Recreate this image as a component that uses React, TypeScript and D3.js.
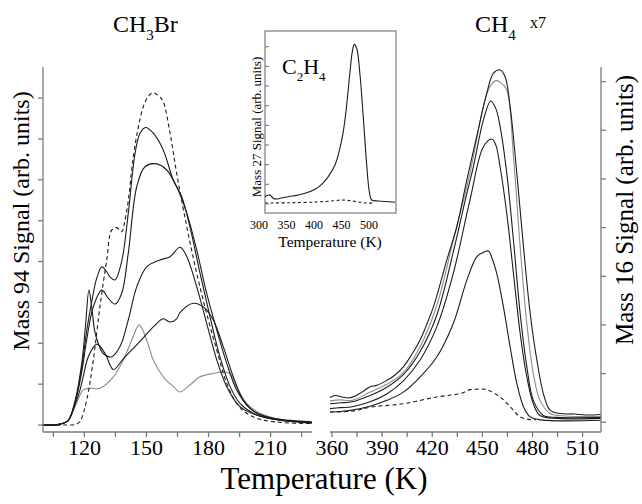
import React from "react";
import * as d3 from "d3";

type Pt = [number, number];

// ---- CH3Br (mass 94), temperature in K, signal in arb. units ----
const ch3brDashed: Pt[] = [[99.5,0],[110,0],[116,0.02],[118,0.1],[121.1,0.61],[124.3,1.59],[127.5,2.89],[130.8,4.04],[133.2,4.77],[135.6,4.83],[138,4.73],[139.6,5.0],[141.5,5.6],[143,6.3],[145.3,7.09],[148.5,7.79],[151,8.05],[153.3,8.13],[156,8.05],[158.1,7.91],[161.4,7.14],[164.6,6.16],[169.5,4.85],[174.3,3.71],[179.1,2.73],[184,1.83],[188.8,1.02],[193.6,0.53],[198.4,0.29],[204.9,0.14],[216.1,0.06],[229.9,0.04]];
const ch3brA: Pt[] = [[99.5,0],[108,0.02],[112,0.1],[115.5,0.55],[118.7,1.4],[121.1,2.3],[123.5,3.0],[126,3.6],[128.4,3.87],[130.8,3.75],[132.4,3.62],[134.8,3.55],[138,4.0],[141.2,5.18],[144.5,6.65],[146.9,7.14],[149.6,7.28],[153.3,7.14],[158.1,6.73],[163,5.99],[167,5.59],[171,4.85],[175.9,3.71],[180.7,2.65],[185.5,1.67],[190.4,0.94],[195.2,0.53],[201.6,0.29],[211.3,0.14],[229.9,0.06]];
const ch3brB: Pt[] = [[99.5,0],[108,0.02],[112,0.1],[115.5,0.55],[118.7,1.3],[121.1,2.08],[124.3,2.89],[128.4,3.3],[131.6,3.1],[134.8,2.96],[138,3.22],[141.2,4.2],[145.3,5.83],[149.3,6.32],[155,6.39],[159.8,6.24],[164.6,5.83],[169.5,5.18],[174.3,4.28],[179.1,3.22],[184,2.32],[188.8,1.51],[193.6,0.86],[200,0.41],[208.1,0.2],[229.9,0.08]];
const ch3brC: Pt[] = [[99.5,0],[108,0.02],[112,0.1],[115.5,0.6],[118.7,1.5],[120.5,2.4],[122.2,3.3],[123.5,2.9],[125,2.3],[126.7,2.0],[129.1,1.75],[133.2,1.67],[137.2,1.92],[141.2,2.57],[145.3,3.38],[150.1,3.87],[156.5,4.04],[161.4,4.12],[166.2,4.35],[169.5,4.12],[174.3,3.38],[179.1,2.49],[184,1.59],[188.8,0.94],[195.2,0.45],[203.3,0.24],[214.5,0.12],[229.9,0.06]];
const ch3brD: Pt[] = [[99.5,0],[108,0.02],[112,0.1],[115.5,0.5],[117.9,0.86],[119.5,1.2],[121.9,1.67],[126,1.98],[130,1.75],[134,1.36],[138.8,1.62],[146.9,2.05],[153.3,2.4],[158.1,2.6],[161.4,2.52],[164.6,2.6],[166.2,2.75],[172.6,2.98],[177.5,2.89],[182.3,2.57],[187.1,1.92],[192,1.18],[196.8,0.61],[203.3,0.29],[213,0.14],[229.9,0.06]];
const ch3brE: Pt[] = [[99.5,0],[108,0.02],[112,0.1],[115.5,0.45],[119.5,0.86],[122.7,0.9],[127.5,0.9],[134,1.18],[138.8,1.59],[142.9,2.08],[146.5,2.45],[150.1,2.08],[153.3,1.59],[158.1,1.18],[163,0.94],[166.2,0.81],[171,0.98],[175.9,1.18],[182.3,1.26],[187.1,1.3],[190.4,1.26],[193.6,0.94],[198.4,0.53],[204.9,0.29],[216.1,0.12],[229.9,0.04]];

// ---- CH4 (mass 16, x7) ----
const ch4A: Pt[] = [[358.8,0.51],[362,0.55],[366,0.52],[370,0.5],[374,0.54],[378,0.62],[382.8,0.73],[387,0.76],[392.8,0.86],[397,0.95],[402.7,1.14],[407,1.35],[412.7,1.69],[416,1.95],[420.7,2.37],[424,2.75],[428.7,3.33],[434.7,4.02],[440.7,4.98],[446.6,5.87],[452.6,6.76],[456.6,7.17],[460.6,7.24],[463.6,7.1],[466.6,6.49],[470.6,5.12],[474.6,3.61],[478.6,2.24],[482.6,1.28],[486.5,0.59],[490.5,0.25],[496.5,0.18],[505,0.17],[512,0.15],[521,0.16]];
const ch4B: Pt[] = [[358.8,0.44],[365,0.46],[372,0.45],[382.8,0.62],[392.8,0.78],[402.7,1.02],[412.7,1.55],[422.7,2.4],[432.6,3.74],[442.6,5.12],[450.6,6.49],[454.6,6.9],[458.2,7.02],[461,6.98],[464.6,6.83],[468.6,5.46],[472.6,3.61],[476.6,2.03],[480.5,1.0],[484.5,0.45],[490.5,0.18],[500,0.13],[521,0.12]];
const ch4C: Pt[] = [[358.8,0.38],[365,0.4],[372,0.42],[382.8,0.55],[392.8,0.72],[402.7,0.98],[412.7,1.45],[422.7,2.2],[432.6,3.5],[440,4.6],[444.6,5.25],[450.6,6.21],[455,6.6],[458,6.45],[460.6,6.08],[464.6,5.12],[468.6,3.74],[472.6,2.24],[476.6,1.14],[480.5,0.45],[486.5,0.14],[495,0.1],[521,0.1]];
const ch4D: Pt[] = [[358.8,0.28],[365,0.3],[372,0.32],[382.8,0.42],[392.8,0.58],[402.7,0.85],[412.7,1.28],[422.7,1.96],[432.6,3.06],[442.6,4.57],[450.6,5.66],[455.6,5.82],[458,5.7],[460.6,5.25],[464.6,4.29],[468.6,3.06],[472.6,1.83],[476.6,0.93],[480.5,0.38],[484.5,0.14],[495,0.08],[521,0.08]];
const ch4E: Pt[] = [[358.8,0.21],[365,0.22],[372,0.25],[382.8,0.33],[392.8,0.45],[402.7,0.62],[412.7,0.93],[422.7,1.34],[432.6,2.03],[440.7,2.92],[446.6,3.4],[450,3.48],[453.6,3.52],[456,3.35],[458.6,3.06],[462.6,2.37],[466.6,1.55],[470.6,0.8],[474.6,0.32],[478.6,0.11],[485,0.05],[521,0.04]];
const ch4Dashed: Pt[] = [[358.8,0.21],[372.8,0.23],[382.8,0.31],[402.7,0.38],[422.7,0.52],[436.7,0.59],[442.6,0.67],[447,0.68],[452.6,0.67],[460.6,0.52],[466.6,0.32],[472.6,0.11],[477.6,0.06],[482,0.05]];

// ---- C2H4 inset (mass 27) ----
const c2h4Solid: Pt[] = [[305.5,0.37],[310,0.44],[314.5,0.46],[320.5,0.29],[326.7,0.25],[335,0.3],[347.8,0.37],[365,0.45],[378.2,0.54],[396.4,0.75],[408.5,1.0],[420.5,1.39],[432.7,1.98],[441.8,2.85],[447.8,3.68],[454,5.04],[460,6.73],[464.2,7.75],[467.8,8.12],[472.2,7.92],[478.2,6.56],[484.2,4.37],[490.4,1.98],[495.1,0.63],[499.5,0.2],[511.5,0.15],[541.8,0.09]];
const c2h4Dashed: Pt[] = [[305.5,0.05],[350,0.06],[400,0.1],[430,0.16],[445,0.2],[460,0.17],[475,0.1],[490,0.05],[505,0.04]];

const leftTickLabels = [120, 150, 180, 210];
const rightTickLabels = [360, 390, 420, 450, 480, 510];
const insetTickLabels = [300, 350, 400, 450, 500];

const FONT = "'Liberation Serif', 'Times New Roman', Times, serif";
const DARK = "#1c1c1c";
const GRAY = "#8c8c8c";
const AXIS = "#7a7a7a";

export default function App() {
  // left panel
  const xL = d3.scaleLinear().domain([100, 230]).range([43, 312]);
  const yL = d3.scaleLinear().domain([-0.17, 8.76]).range([432, 67]);
  // right panel
  const xR = d3.scaleLinear().domain([358.8, 521]).range([330, 601]);
  const yR = d3.scaleLinear().domain([-0.2, 7.3]).range([432, 67]);
  // inset
  const xI = d3.scaleLinear().domain([305.5, 543.6]).range([265, 396]);
  const yI = d3.scaleLinear().domain([-0.46, 8.8]).range([213, 31]);

  const mk = (x: d3.ScaleLinear<number, number>, y: d3.ScaleLinear<number, number>) =>
    d3.line<Pt>().x(d => x(d[0])).y(d => y(d[1])).curve(d3.curveCatmullRom.alpha(0.5));

  const lineL = mk(xL, yL);
  const lineR = mk(xR, yR);
  const lineI = mk(xI, yI);

  const leftMinor = d3.range(105, 231, 15);
  const rightMinor = d3.range(360, 521, 15);

  return (
    <svg width={642} height={504} style={{ position: "absolute", left: 0, top: 0, background: "#fff", fontFamily: FONT }}>
      <rect width={642} height={504} fill="#fff" />

      {/* left panel curves */}
      <g fill="none" strokeWidth={1.1}>
        <path d={lineL(ch3brE) || ""} stroke={GRAY} />
        <path d={lineL(ch3brD) || ""} stroke={DARK} />
        <path d={lineL(ch3brC) || ""} stroke={DARK} />
        <path d={lineL(ch3brB) || ""} stroke={DARK} />
        <path d={lineL(ch3brA) || ""} stroke={DARK} />
        <path d={lineL(ch3brDashed) || ""} stroke={DARK} strokeDasharray="4,3" />
      </g>

      {/* left axes */}
      <g stroke={AXIS} strokeWidth={1.3}>
        <line x1={xL.range()[0]} x2={xL.range()[0]} y1={67} y2={432} />
        <line x1={xL.range()[0]} x2={xL.range()[1]} y1={432} y2={432} />
        {d3.range(0, 9).map(v => (
          <line key={"ly" + v} x1={xL.range()[0] - 5} x2={xL.range()[0]} y1={yL(v)} y2={yL(v)} />
        ))}
        {leftMinor.map(t => (
          <line key={"lx" + t} x1={xL(t)} x2={xL(t)} y1={432} y2={437} />
        ))}
      </g>
      {leftTickLabels.map(t => (
        <text key={"lt" + t} x={xL(t)} y={455} fontSize={22} textAnchor="middle">{t}</text>
      ))}

      {/* right panel curves */}
      <g fill="none" strokeWidth={1.1}>
        <path d={lineR(ch4Dashed) || ""} stroke={DARK} strokeDasharray="4,3" />
        <path d={lineR(ch4E) || ""} stroke={DARK} />
        <path d={lineR(ch4D) || ""} stroke={DARK} />
        <path d={lineR(ch4C) || ""} stroke={DARK} />
        <path d={lineR(ch4B) || ""} stroke={GRAY} />
        <path d={lineR(ch4A) || ""} stroke={DARK} />
      </g>

      {/* right axes */}
      <g stroke={AXIS} strokeWidth={1.3}>
        <line x1={xR.range()[1]} x2={xR.range()[1]} y1={67} y2={432} />
        <line x1={xR.range()[0]} x2={xR.range()[1]} y1={432} y2={432} />
        {d3.range(0, 8).map(v => (
          <line key={"ry" + v} x1={xR.range()[1]} x2={xR.range()[1] + 5} y1={yR(v)} y2={yR(v)} />
        ))}
        {rightMinor.map(t => (
          <line key={"rx" + t} x1={xR(t)} x2={xR(t)} y1={432} y2={437} />
        ))}
      </g>
      {rightTickLabels.map(t => (
        <text key={"rt" + t} x={xR(t)} y={455} fontSize={22} textAnchor="middle">{t}</text>
      ))}

      {/* inset */}
      <rect x={265} y={31} width={131} height={182} fill="#fff" stroke={AXIS} strokeWidth={1.2} />
      <g fill="none" strokeWidth={1.1}>
        <path d={lineI(c2h4Dashed) || ""} stroke={DARK} strokeDasharray="3,2.5" />
        <path d={lineI(c2h4Solid) || ""} stroke={DARK} />
      </g>
      <g stroke={AXIS} strokeWidth={1.1}>
        {d3.range(0, 9).map(v => (
          <line key={"iy" + v} x1={265} x2={269} y1={yI(v)} y2={yI(v)} />
        ))}
      </g>
      {insetTickLabels.map(t => (
        <text key={"it" + t} x={xI(t) - 3} y={229} fontSize={12} textAnchor="middle">{t}</text>
      ))}
      <text x={330} y={247} fontSize={15.5} textAnchor="middle">Temperature (K)</text>
      <text transform="translate(261,127) rotate(-90)" fontSize={13} textAnchor="middle">Mass 27 Signal (arb. units)</text>
      <text x={282} y={74} fontSize={22}>
        C<tspan fontSize={13} dy={7}>2</tspan><tspan dy={-7}>H</tspan><tspan fontSize={13} dy={7}>4</tspan>
      </text>

      {/* titles and axis labels */}
      <text x={113} y={32} fontSize={24}>
        CH<tspan fontSize={15} dy={8}>3</tspan><tspan dy={-8}>Br</tspan>
      </text>
      <text x={475} y={32} fontSize={24}>
        CH<tspan fontSize={15} dy={8}>4</tspan>
      </text>
      <text x={530} y={28} fontSize={16}>x7</text>

      <text transform="translate(29,221) rotate(-90)" fontSize={24} textAnchor="middle">Mass 94 Signal (arb. units)</text>
      <text transform="translate(633,210) rotate(-90)" fontSize={25} textAnchor="middle">Mass 16 Signal (arb. units)</text>
      <text x={324} y={489} fontSize={31} textAnchor="middle">Temperature (K)</text>
    </svg>
  );
}
